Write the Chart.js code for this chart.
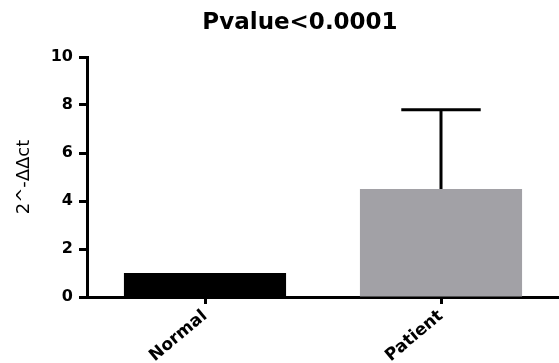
<!DOCTYPE html>
<html>
<head>
<meta charset="utf-8">
<script src="https://cdn.jsdelivr.net/npm/chart.js@4/dist/chart.umd.min.js"></script>
<style>
  html, body { margin: 0; padding: 0; background: #fff; }
  canvas { display: block; }
</style>
</head>
<body>
<canvas id="c" width="559" height="363"></canvas>
<script>
// Relative expression (2^-ΔΔct) per group
const groups = ['Normal', 'Patient'];
const meanValues = [1.0, 4.5];
const sdValues = [0, 3.3];
const yTicks = [0, 2, 4, 6, 8, 10];
const barColors = ['#000000', '#a2a1a6'];
const chartTitle = 'Pvalue<0.0001';
const yTitle = '2^-ΔΔct';

// Upper error bars (mean + SD) drawn over each bar
const errorBars = {
  id: 'errorBars',
  afterDatasetsDraw(chart) {
    const meta = chart.getDatasetMeta(0);
    const yScale = chart.scales.y;
    const ctx = chart.ctx;
    ctx.save();
    ctx.strokeStyle = '#000';
    ctx.lineWidth = 3;
    meta.data.forEach((bar, i) => {
      if (!sdValues[i]) return;
      const yBase = yScale.getPixelForValue(meanValues[i]);
      const yTop = yScale.getPixelForValue(meanValues[i] + sdValues[i]);
      const half = bar.width * 0.245;
      ctx.beginPath();
      ctx.moveTo(bar.x, yBase);
      ctx.lineTo(bar.x, yTop);
      ctx.moveTo(bar.x - half, yTop);
      ctx.lineTo(bar.x + half, yTop);
      ctx.stroke();
    });
    ctx.restore();
  }
};

// Heading above the plot
const heading = {
  id: 'heading',
  afterDraw(chart) {
    const ctx = chart.ctx;
    ctx.save();
    ctx.fillStyle = '#000';
    ctx.font = 'bold 23px "DejaVu Sans"';
    ctx.textAlign = 'center';
    ctx.textBaseline = 'middle';
    ctx.fillText(chartTitle, 300, 23);
    ctx.restore();
  }
};

new Chart(document.getElementById('c'), {
  type: 'bar',
  data: {
    labels: groups,
    datasets: [{
      data: meanValues,
      backgroundColor: barColors,
      borderWidth: 0,
      barPercentage: 0.687,
      categoryPercentage: 1.0
    }]
  },
  options: {
    responsive: false,
    animation: false,
    layout: { padding: { top: 57, left: 0, right: 0, bottom: 0 } },
    plugins: {
      legend: { display: false },
      tooltip: { enabled: false },
      title: { display: false }
    },
    scales: {
      x: {
        offset: true,
        grid: {
          display: true,
          drawOnChartArea: false,
          drawTicks: true,
          tickLength: 7,
          tickWidth: 3,
          tickColor: '#000',
          color: '#000',
          offset: false
        },
        border: { display: true, width: 3, color: '#000' },
        ticks: {
          color: '#000',
          font: { family: 'DejaVu Sans', size: 17, weight: 'bold' },
          minRotation: 40,
          maxRotation: 40,
          padding: 2
        },
        afterFit(scale) { scale.height = 66; }
      },
      y: {
        min: 0,
        max: 10,
        afterBuildTicks(scale) { scale.ticks = yTicks.map(v => ({ value: v })); },
        grid: {
          display: true,
          drawOnChartArea: false,
          drawTicks: true,
          tickLength: 8,
          tickWidth: 3,
          tickColor: '#000',
          color: '#000'
        },
        border: { display: true, width: 3, color: '#000' },
        ticks: {
          color: '#000',
          font: { family: 'DejaVu Sans', size: 16, weight: 'bold' },
          padding: 6
        },
        title: {
          display: true,
          text: yTitle,
          color: '#000',
          font: { family: 'DejaVu Sans', size: 18 },
          padding: { top: 14, bottom: 0 }
        },
        afterFit(scale) { scale.width = 87; }
      }
    }
  },
  plugins: [errorBars, heading]
});
</script>
</body>
</html>
